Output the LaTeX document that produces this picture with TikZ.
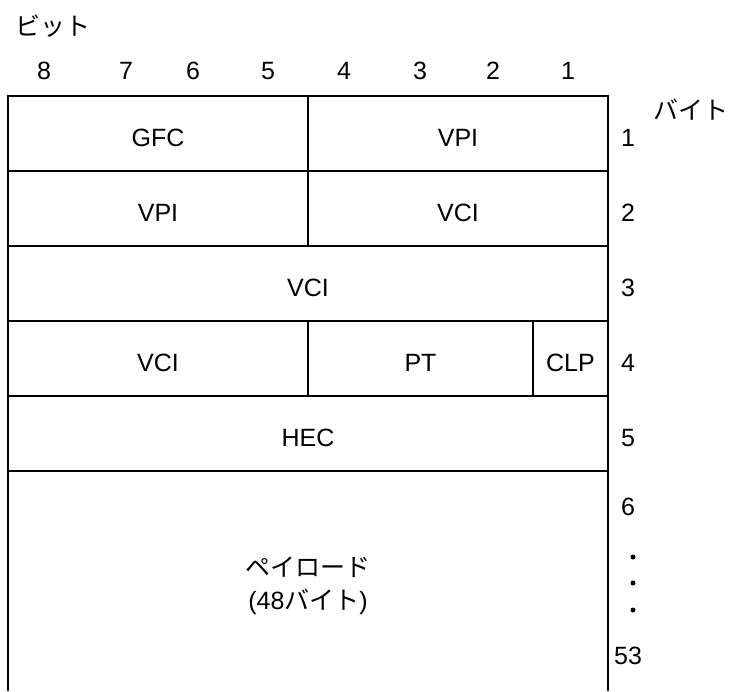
\documentclass[tikz,border=0pt]{standalone}
\usepackage{fontspec}
\setmainfont{Liberation Sans}
\newfontfamily\jpfont{Noto Sans CJK JP}
\usetikzlibrary{positioning}

\begin{document}
\begin{tikzpicture}[x=1pt, y=-1pt, line width=1.3pt,
    every node/.style={font=\fontsize{25}{30}\selectfont, inner sep=0pt}]
    \useasboundingbox (0,0) rectangle (733,691);

    % Define grid
    \draw (8,691) -- (8,96) -- (608,96) -- (608,691);
    \foreach \y in {171,246,321,396,471}
        \draw (8,\y) -- (608,\y);
    \draw (308,96) -- (308,246);
    \draw (308,321) -- (308,396);
    \draw (533,321) -- (533,396);

    % Define headings
    \node (bits) at (53,26) {\jpfont ビット};
    \node (bytes) at (691,110) {\jpfont バイト};
    \foreach \b/\x in {8/44,7/126,6/193,5/268,4/344,3/420,2/493,1/568}
        \node (bit\b) at (\x,71) {\b};
    \foreach \n/\y in {1/138,2/213,3/288,4/363,5/438,6/507,53/656}
        \node (byte\n) at (628,\y) {\n};
    \foreach \y in {557,583,610}
        \fill (633,\y) circle (2.5);

    % Define fields
    \node (gfc) at (158,138) {GFC};
    \node (vpia) at (458,138) {VPI};
    \node (vpib) at (158,213) {VPI};
    \node (vcia) at (458,213) {VCI};
    \node (vcib) at (308,288) {VCI};
    \node (vcic) at (158,363) {VCI};
    \node (pt) at (420.5,363) {PT};
    \node (clp) at (570.5,363) {CLP};
    \node (hec) at (308,438) {HEC};
    \node (payload) at (308,567) {\jpfont ペイロード};
    \node (size) at (308,602) {(48\jpfont バイト\rmfamily)};
\end{tikzpicture}
\end{document}
